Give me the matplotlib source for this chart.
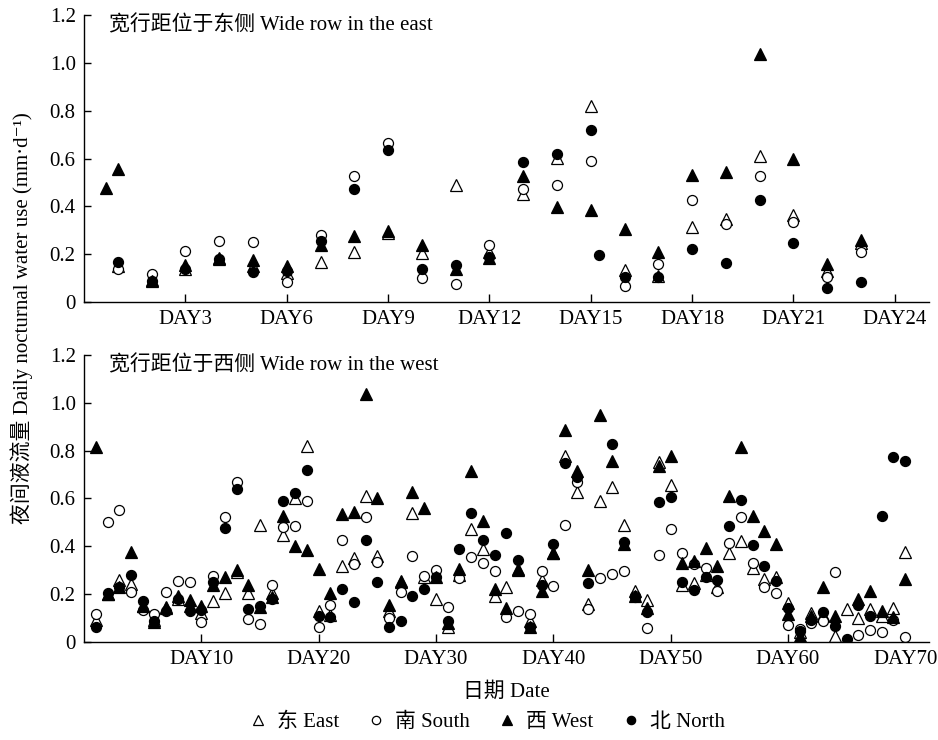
import numpy as np
import matplotlib
matplotlib.use('agg')
from matplotlib import pyplot as plt
from matplotlib.lines import Line2D
from matplotlib.ticker import FuncFormatter

plt.rcParams['font.family'] = ['Liberation Serif', 'Noto Sans CJK SC', 'DejaVu Serif']
plt.rcParams['font.size'] = 15

# top panel: wide row in the east (days 1..23)
top_days = list(range(1, 24))
top_east = [0.15, 0.09, 0.14, 0.18, 0.15, 0.12, 0.168, 0.207, 0.29, 0.203, 0.49, 0.21,
            0.45, 0.603, 0.821, 0.133, 0.11, 0.314, 0.349, 0.61, 0.3625, 0.13, 0.245]
top_south = [0.136, 0.119, 0.2125, 0.255, 0.249, 0.082, 0.279, 0.525, 0.664, 0.099, 0.075, 0.24,
             0.474, 0.4875, 0.589, 0.067, 0.157, 0.428, 0.325, 0.525, 0.335, 0.103, 0.21]
top_west_x = [0.65] + top_days
top_west = [0.476, 0.557, 0.0875, 0.154, 0.186, 0.175, 0.151, 0.2375, 0.275, 0.297, 0.2375, 0.14, 0.186,
            0.526, 0.397, 0.386, 0.307, 0.207, 0.533, 0.543, 1.036, 0.599, 0.157, 0.258]
top_north_x = top_days[:15] + [15.25] + top_days[15:]
top_north = [0.168, 0.0875, 0.136, 0.18, 0.126, 0.13, 0.255, 0.474, 0.636, 0.14, 0.154, 0.189,
             0.585, 0.62, 0.719, 0.196, 0.105, 0.103, 0.222, 0.164, 0.425, 0.245, 0.06, 0.085]
top_ticks = [3, 6, 9, 12, 15, 18, 21, 24]

# bottom panel: wide row in the west (days 1..70)
bot_days = list(range(1, 71))
bot_east = [0.09, 0.2, 0.258, 0.241, 0.15, 0.09, 0.14, 0.18, 0.15, 0.12,
            0.169, 0.206, 0.29, 0.202, 0.49, 0.206, 0.448, 0.601, 0.82, 0.13,
            0.11, 0.315, 0.349, 0.611, 0.36, 0.13, 0.248, 0.537, 0.27, 0.179,
            0.06, 0.28, 0.472, 0.388, 0.193, 0.23, 0.3, 0.085, 0.258, 0.37,
            0.779, 0.628, 0.158, 0.59, 0.649, 0.49, 0.211, 0.176, 0.751, 0.657,
            0.239, 0.244, 0.28, 0.23, 0.37, 0.42, 0.308, 0.262, 0.269, 0.16,
            0.04, 0.119, 0.11, 0.025, 0.137, 0.099, 0.137, 0.109, 0.14, 0.377]
bot_south = [0.116, 0.502, 0.551, 0.21, 0.133, 0.116, 0.21, 0.253, 0.248, 0.081,
             0.276, 0.523, 0.667, 0.095, 0.074, 0.239, 0.479, 0.486, 0.59, 0.063,
             0.155, 0.426, 0.325, 0.523, 0.332, 0.099, 0.209, 0.357, 0.276, 0.3,
             0.147, 0.266, 0.353, 0.329, 0.297, 0.102, 0.127, 0.116, 0.294, 0.234,
             0.49, 0.67, 0.137, 0.265, 0.283, 0.297, 0.19, 0.057, 0.364, 0.472,
             0.37, 0.325, 0.308, 0.211, 0.413, 0.52, 0.328, 0.23, 0.206, 0.071,
             0.053, 0.08, 0.085, 0.29, np.nan, 0.028, 0.049, 0.039, 0.09, 0.018]
bot_west = [0.813, 0.2, 0.23, 0.374, 0.15, 0.084, 0.144, 0.193, 0.174, 0.151,
            0.237, 0.272, 0.3, 0.239, 0.145, 0.186, 0.527, 0.399, 0.384, 0.304,
            0.206, 0.534, 0.541, 1.037, 0.601, 0.155, 0.255, 0.625, 0.558, 0.27,
            0.08, 0.304, 0.716, 0.506, 0.22, 0.14, 0.304, 0.063, 0.211, 0.371,
            0.886, 0.713, 0.301, 0.95, 0.758, 0.41, 0.193, 0.14, 0.737, 0.779,
            0.328, 0.339, 0.391, 0.315, 0.608, 0.813, 0.527, 0.462, 0.409, 0.116,
            0.025, 0.106, 0.23, 0.109, np.nan, 0.179, 0.213, 0.13, 0.102, 0.262]
bot_north = [0.06, 0.206, 0.23, 0.28, 0.169, 0.088, 0.13, 0.18, 0.13, 0.133,
             0.248, 0.476, 0.639, 0.137, 0.151, 0.179, 0.587, 0.621, 0.719, 0.106,
             0.102, 0.22, 0.165, 0.426, 0.248, 0.06, 0.085, 0.193, 0.22, 0.269,
             0.085, 0.388, 0.537, 0.426, 0.364, 0.453, 0.343, 0.063, 0.239, 0.409,
             0.746, 0.688, 0.244, np.nan, 0.827, 0.416, 0.186, 0.123, 0.583, 0.607,
             0.248, 0.216, 0.269, 0.258, 0.483, 0.594, 0.405, 0.318, 0.255, 0.14,
             0.046, 0.09, 0.123, 0.067, 0.011, 0.155, 0.109, 0.527, 0.774, 0.755]
bot_ticks = [10, 20, 30, 40, 50, 60, 70]

labels = ['东 East', '南 South', '西 West', '北 North']

fig = plt.figure(figsize=(9.38, 7.4), dpi=100)
ax1 = fig.add_axes([0.0896, 0.5919, 0.9004, 0.3878])
ax2 = fig.add_axes([0.0896, 0.1328, 0.9004, 0.3875])

tri = dict(marker='^', ms=8.5, mew=0.9, color='black', linestyle='none')
circ = dict(marker='o', ms=7.2, mew=0.9, color='black', linestyle='none')


def draw(ax, ex, e, sx, s, wx, w, nx, n):
    ax.plot(ex, e, mfc='white', **tri)
    ax.plot(sx, s, mfc='white', **circ)
    ax.plot(wx, w, mfc='black', **tri)
    ax.plot(nx, n, mfc='black', **circ)


draw(ax1, top_days, top_east, top_days, top_south, top_west_x, top_west, top_north_x, top_north)
draw(ax2, bot_days, bot_east, bot_days, bot_south, bot_days, bot_west, bot_days, bot_north)

fmt = FuncFormatter(lambda v, p: '0' if abs(v) < 1e-9 else '%.1f' % v)
for ax, ticks, xmax in [(ax1, top_ticks, 25), (ax2, bot_ticks, 72)]:
    ax.set_xlim(0, xmax)
    ax.set_ylim(0, 1.2)
    ax.set_xticks(ticks)
    ax.set_xticklabels(['DAY%d' % t for t in ticks])
    ax.set_yticks(np.arange(0, 1.21, 0.2))
    ax.yaxis.set_major_formatter(fmt)
    ax.spines['top'].set_visible(False)
    ax.spines['right'].set_visible(False)
    for sp in ['left', 'bottom']:
        ax.spines[sp].set_linewidth(1.0)
    ax.tick_params(axis='x', direction='in', length=6, width=1.0, pad=6, labelsize=15)
    ax.tick_params(axis='y', direction='in', length=5, width=1.0, pad=6, labelsize=15)

ax1.text(0.03, 0.965, '宽行距位于东侧 Wide row in the east', transform=ax1.transAxes,
         va='center', ha='left', fontsize=15)
ax2.text(0.03, 0.965, '宽行距位于西侧 Wide row in the west', transform=ax2.transAxes,
         va='center', ha='left', fontsize=15)

fig.text(506 / 938, 1 - 692 / 740, '日期 Date', ha='center', va='center', fontsize=15)
fig.text(22 / 938, 1 - 318 / 740, '夜间液流量 Daily nocturnal water use (mm·d⁻¹)',
         rotation=90, ha='center', va='center', fontsize=15)

handles = [
    Line2D([], [], marker='^', ms=7, mew=0.9, color='black', mfc='white', linestyle='none'),
    Line2D([], [], marker='o', ms=6, mew=0.9, color='black', mfc='white', linestyle='none'),
    Line2D([], [], marker='^', ms=7, mew=0.9, color='black', mfc='black', linestyle='none'),
    Line2D([], [], marker='o', ms=6, mew=0.9, color='black', mfc='black', linestyle='none'),
]
fig.legend(handles, labels, loc='center', bbox_to_anchor=(486 / 938, 1 - 722 / 740), ncol=4,
           frameon=False, fontsize=15, handlelength=1.0, handletextpad=0.4, columnspacing=1.3)

fig.savefig('out.png', dpi=100)
